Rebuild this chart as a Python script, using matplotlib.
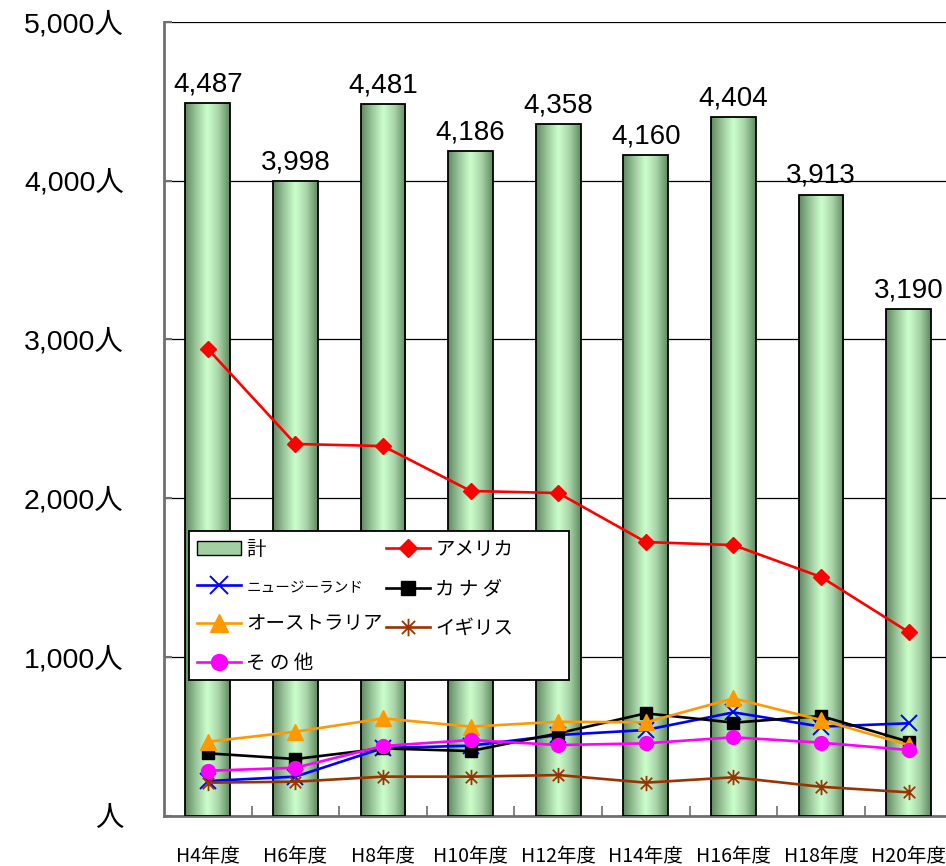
import matplotlib
matplotlib.use("Agg")
import matplotlib.pyplot as plt
import numpy as np
from matplotlib.colors import LinearSegmentedColormap
from matplotlib.patches import Rectangle
from matplotlib.path import Path
from matplotlib.ticker import FixedLocator, FuncFormatter

plt.rcParams['font.family'] = ['Noto Sans CJK JP', 'DejaVu Sans']

# 年度別 来訪者数
years = ['H4年度', 'H6年度', 'H8年度', 'H10年度', 'H12年度',
         'H14年度', 'H16年度', 'H18年度', 'H20年度']
total = [4487, 3998, 4481, 4186, 4358, 4160, 4404, 3913, 3190]
america = [2940, 2341, 2328, 2045, 2032, 1723, 1704, 1503, 1156]
new_zealand = [217, 245, 425, 440, 507, 539, 650, 560, 581]
canada = [392, 356, 423, 406, 518, 644, 585, 627, 465]
australia = [465, 528, 612, 560, 591, 587, 738, 602, 444]
uk = [207, 213, 245, 245, 255, 207, 241, 181, 146]
others = [282, 301, 438, 476, 444, 455, 493, 459, 413]
y_ticks = [0, 1000, 2000, 3000, 4000, 5000]

FIG_W, FIG_H = 946, 866
fig = plt.figure(figsize=(FIG_W / 100, FIG_H / 100), dpi=100)
ax = fig.add_axes([0.1734, 0.0583, 0.8334, 0.9163])

x = np.arange(len(years))
bar_w = 0.51
num_font = ['Liberation Sans', 'Noto Sans CJK JP']

# グラデーションの棒
bar_cmap = LinearSegmentedColormap.from_list(
    'bar', ['#5f8a5f', '#9cc79c', '#ccffcc', '#a8d3a8', '#5f8a5f'])
grad = np.linspace(0, 1, 256).reshape(1, -1)
for xi, h in zip(x, total):
    x0, x1 = xi - bar_w / 2, xi + bar_w / 2
    im = ax.imshow(grad, cmap=bar_cmap, extent=(x0, x1, 0, h),
                   aspect='auto', zorder=2, interpolation='bicubic')
    rect = Rectangle((x0, 0), bar_w, h, facecolor='none',
                     edgecolor='black', linewidth=1.3, zorder=3)
    ax.add_patch(rect)
    im.set_clip_path(rect)
    ax.annotate(f'{h:,}', (xi, h), xytext=(0, 4), textcoords='offset points',
                ha='center', va='bottom', fontsize=20,
                family=num_font, zorder=5)

# 凡例用の棒
bar_handle = Rectangle((0, 0), 1, 1, facecolor='#a3cfa3', edgecolor='black',
                       linewidth=1.0)

star = Path([(0, -1), (0, 1), (-0.75, -0.75), (0.75, 0.75),
             (-0.75, 0.75), (0.75, -0.75)],
            [Path.MOVETO, Path.LINETO, Path.MOVETO, Path.LINETO,
             Path.MOVETO, Path.LINETO])

lw = 1.9
h_us, = ax.plot(x, america, color='#ff0000', marker='D', markersize=8,
                lw=lw, zorder=6)
h_nz, = ax.plot(x, new_zealand, color='#0000ff', marker='x', markersize=11,
                mew=1.4, lw=lw, zorder=6)
h_ca, = ax.plot(x, canada, color='#000000', marker='s', markersize=9,
                lw=lw, zorder=6)
h_au, = ax.plot(x, australia, color='#ff9900', marker='^', markersize=11,
                lw=lw, zorder=6)
h_uk, = ax.plot(x, uk, color='#993300', marker=star, markersize=11,
                mew=1.3, lw=lw, zorder=6)
h_ot, = ax.plot(x, others, color='#ff00ff', marker='o', markersize=10,
                lw=lw, zorder=6)

# 凡例の枠 (ピクセル位置から軸座標へ)
ax_l, ax_b = 0.1734 * FIG_W, FIG_H - 0.0583 * FIG_H
ax_w, ax_h = 0.8334 * FIG_W, 0.9163 * FIG_H
def to_axes(px, py):
    return (px - ax_l) / ax_w, (ax_b - py) / ax_h

bx0, by_top = to_axes(189, 531)
bx1, by_bot = to_axes(569, 680)
frame = Rectangle((bx0, by_bot), bx1 - bx0, by_top - by_bot,
                  transform=ax.transAxes, facecolor='white',
                  edgecolor='black', linewidth=1.3, zorder=9)
ax.add_patch(frame)

handles = [bar_handle, h_nz, h_au, h_ot, h_us, h_ca, h_uk]
labels = ['計', 'ニュージーランド', 'オーストラリア', 'そ の 他',
          'アメリカ', 'カ ナ ダ', 'イギリス']
lx, ly = to_axes(191, 533)
leg = ax.legend(handles, labels, ncol=2, loc='upper left',
                bbox_to_anchor=(lx, ly), fontsize=14, frameon=False,
                borderpad=0.3, labelspacing=0.95, handlelength=2.25,
                handletextpad=0.3, columnspacing=0.15, borderaxespad=0,
                markerscale=1.15)
leg.set_zorder(10)
for t in leg.get_texts():
    if t.get_text() == 'ニュージーランド':
        t.set_fontsize(10.5)

ax.set_xlim(-0.5, len(years) - 0.5)
ax.set_ylim(0, 5000)

ax.yaxis.set_major_locator(FixedLocator(y_ticks))
ax.yaxis.set_major_formatter(
    FuncFormatter(lambda v, p: '人' if v == 0 else f'{int(v):,}人'))
ax.yaxis.grid(True, color='black', linewidth=0.9, zorder=0)
ax.set_axisbelow(True)
ax.tick_params(axis='y', direction='in', length=6, width=1.5,
               color='#707070', pad=29, labelsize=20.5)
for t in ax.get_yticklabels():
    t.set_family(num_font)

ax.set_xticks(x)
ax.set_xticklabels(years)
ax.set_xticks(np.arange(0.5, len(years) - 1, 1), minor=True)
ax.tick_params(axis='x', which='major', length=0, pad=22, labelsize=14)
ax.tick_params(axis='x', which='minor', direction='in', length=7,
               width=1.2, color='#707070')

for side in ['top', 'right']:
    ax.spines[side].set_visible(False)
ax.spines['left'].set_color('#707070')
ax.spines['left'].set_linewidth(2)
ax.spines['bottom'].set_color('#707070')
ax.spines['bottom'].set_linewidth(2)

fig.savefig('out.png', dpi=100)
